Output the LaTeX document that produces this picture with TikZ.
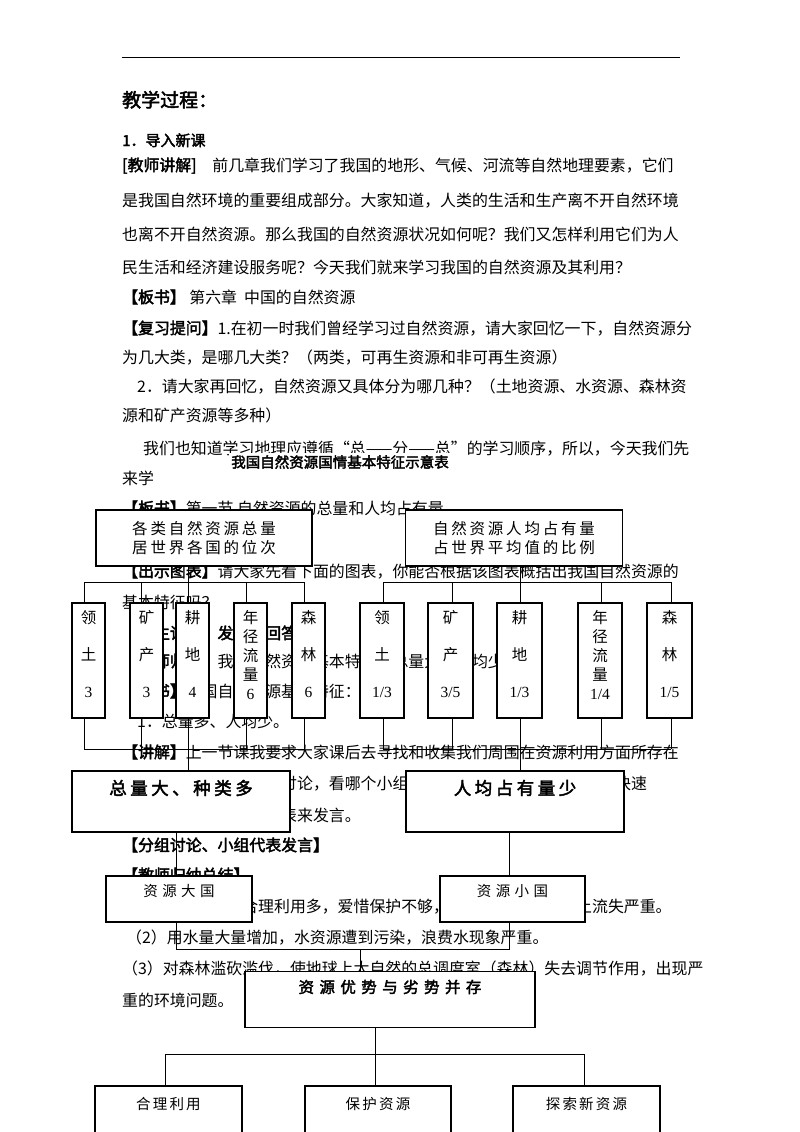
\documentclass[tikz,border=0pt]{standalone}
\usepackage{fontspec}
\setmainfont{Noto Sans CJK SC}[AutoFakeBold=2.5]
\newfontfamily\numf{Liberation Serif}
\begin{document}
\begin{tikzpicture}[x=1pt,y=-1pt,
  tl/.style={anchor=base west,inner sep=0pt,font=\fontsize{15.9}{18}\selectfont},
  bx/.style={draw,line width=1.4pt,fill=white,inner sep=0pt},
  sbx/.style={draw,line width=1.1pt,fill=white,inner sep=0pt,minimum width=33pt,minimum height=115pt},
  sl/.style={anchor=north,inner sep=0pt,align=center,font=\fontsize{15.5}{19}\selectfont},
  ln/.style={line width=0.8pt}]
\useasboundingbox[fill=white] (0,0) rectangle (800,1132);
\draw[line width=0.8pt] (122,57) -- (680,57);
\node[tl,font=\fontsize{19}{22}\selectfont\bfseries] at (122,107) {教学过程：};
\node[tl,font=\fontsize{15}{18}\selectfont\bfseries] at (122,146) {1．导入新课};
\node[tl] at (122,171) {\textbf{[教师讲解]}\quad 前几章我们学习了我国的地形、气候、河流等自然地理要素，它们};
\node[tl] at (122,206) {是我国自然环境的重要组成部分。大家知道，人类的生活和生产离不开自然环境};
\node[tl] at (122,240) {也离不开自然资源。那么我国的自然资源状况如何呢？我们又怎样利用它们为人};
\node[tl] at (122,273) {民生活和经济建设服务呢？今天我们就来学习我国的自然资源及其利用？};
\node[tl] at (122,303) {\textbf{【板书】} 第六章\ \ 中国的自然资源};
\node[tl] at (122,334) {\textbf{【复习提问】}1.在初一时我们曾经学习过自然资源，请大家回忆一下，自然资源分};
\node[tl] at (122,363) {为几大类，是哪几大类？（两类，可再生资源和非可再生资源）};
\node[tl] at (137,392) {2．请大家再回忆，自然资源又具体分为哪几种？（土地资源、水资源、森林资};
\node[tl] at (122,421) {源和矿产资源等多种）};
\node[tl] at (143,454) {我们也知道学习地理应遵循“总——分——总”的学习顺序，所以，今天我们先};
\node[tl] at (122,484) {来学};
\node[tl] at (122,514) {\textbf{【板书】}第一节\ 自然资源的总量和人均占有量};
\node[tl] at (122,577) {\textbf{【出示图表】}请大家先看下面的图表，你能否根据该图表概括出我国自然资源的};
\node[tl] at (122,608) {基本特征吗？};
\node[tl] at (122,639) {\textbf{【学生讨论、发表、回答】}};
\node[tl] at (122,667) {\textbf{【教师归纳】}我国自然资源基本特征：总量大，人均少};
\node[tl] at (122,697) {\textbf{【板书】}我国自然资源基本特征：};
\node[tl] at (137,727) {1．总量多、人均少。};
\node[tl] at (122,758) {\textbf{【讲解】}上一节课我要求大家课后去寻找和收集我们周围在资源利用方面所存在};
\node[tl] at (122,789) {的问题。下面请各小组讨论，看哪个小组对这些问题找得多、找出问题快速};
\node[tl] at (122,821) {准确，请一些小组的代表来发言。};
\node[tl] at (122,851) {\textbf{【分组讨论、小组代表发言】}};
\node[tl] at (122,881) {\textbf{【教师归纳总结】}};
\node[tl] at (122,912) {（1）土地资源不合理利用多，爱惜保护不够，造成土地浪费，水土流失严重。};
\node[tl] at (126,943) {（2）用水量大量增加，水资源遭到污染，浪费水现象严重。};
\node[tl] at (122,974) {（3）对森林滥砍滥伐，使地球上大自然的总调度室（森林）失去调节作用，出现严};
\node[tl] at (122,1006) {重的环境问题。};
% title
\node[fill=white,inner sep=2pt,font=\fontsize{14.5}{16}\selectfont\bfseries] (title) at (340,462) {我国自然资源国情基本特征示意表};
% connectors
\coordinate (ta) at (188,582); \coordinate (tb) at (520,582);
\coordinate (ba) at (188,749); \coordinate (bb) at (520,749);
\draw[ln] (84,582) -- (304,582) (383,582) -- (671,582);
\draw[ln] (84,749) -- (304,749) (383,749) -- (671,749);
\foreach \x in {84,141,188,246,304,383,452,520,601,671} \draw[ln] (\x,582) -- (\x,749);
\draw[ln] (188,566) -- (ta) (ba) -- (188,771);
\draw[ln] (520,566) -- (tb) (bb) -- (520,771);
\draw[ln] (176,832) -- (176,949) -- (509,949) -- (509,832);
\draw[ln] (360,949) -- (360,971);
\draw[ln] (375,1028) -- (375,1086);
\draw[ln] (165,1086) -- (165,1054) -- (584,1054) -- (584,1086);
% boxes
\tikzset{sp/.style={font=\fontsize{15.5}{19}\selectfont\addfontfeature{LetterSpace=18}}}
\node[bx,minimum width=216pt,minimum height=56pt] (A) at (204,538) {};
\node[sp,align=left] at (204,538) {各类自然资源总量\\居世界各国的位次};
\node[bx,minimum width=217pt,minimum height=56pt] (B) at (514,538) {};
\node[sp,align=left] at (514,538) {自然资源人均占有量\\占世界平均值的比例};
\foreach \xa/\xb/\t in {72/105/{领\\[18pt]土\\[18pt]{\numf 3}},130/163/{矿\\[18pt]产\\[18pt]{\numf 3}},176/209/{耕\\[18pt]地\\[18pt]{\numf 4}},234/267/{年\\径\\流\\量\\{\numf 6}},292/325/{森\\[18pt]林\\[18pt]{\numf 6}},360/404/{领\\[18pt]土\\[18pt]{\numf 1/3}},428/473/{矿\\[18pt]产\\[18pt]{\numf 3/5}},497/542/{耕\\[18pt]地\\[18pt]{\numf 1/3}},578/622/{年\\径\\流\\量\\{\numf 1/4}},647/692/{森\\[18pt]林\\[18pt]{\numf 1/5}}}{
  \node[sbx,minimum width={\xb-\xa}] at ({(\xa+\xb)/2},660.5) {};
  \node[sl] at ({(\xa+\xb)/2},610) {\t};
}
\node[bx,minimum width=218pt,minimum height=61pt] (C) at (181,801.5) {};
\node[font=\fontsize{17.5}{20}\selectfont\bfseries\addfontfeature{LetterSpace=20}] at (181,788) {总量大、种类多};
\node[bx,minimum width=218pt,minimum height=61pt] (D) at (515,801.5) {};
\node[font=\fontsize{17.5}{20}\selectfont\bfseries\addfontfeature{LetterSpace=20}] at (515,788) {人均占有量少};
\node[bx,line width=1.1pt,minimum width=146pt,minimum height=46pt] (E) at (179,899) {};
\node[font=\fontsize{14.5}{17}\selectfont\addfontfeature{LetterSpace=30}] at (179,891) {资源大国};
\node[bx,line width=1.1pt,minimum width=145pt,minimum height=46pt] (F) at (512.5,899) {};
\node[font=\fontsize{14.5}{17}\selectfont\addfontfeature{LetterSpace=30}] at (512.5,891) {资源小国};
\node[bx,minimum width=290pt,minimum height=56pt] (G) at (390,999.5) {};
\node[font=\fontsize{15.5}{18}\selectfont\bfseries\addfontfeature{LetterSpace=35}] at (390,987) {资源优势与劣势并存};
\foreach \xa/\xb/\t in {95/242/合理利用,305/451/保护资源,513/660/探索新资源}{
  \node[bx,line width=1.1pt,minimum width={\xb-\xa},minimum height=50pt] at ({(\xa+\xb)/2},1111) {};
  \node[font=\fontsize{14.5}{17}\selectfont\addfontfeature{LetterSpace=15}] at ({(\xa+\xb)/2},1104) {\t};
}
\end{tikzpicture}
\end{document}
